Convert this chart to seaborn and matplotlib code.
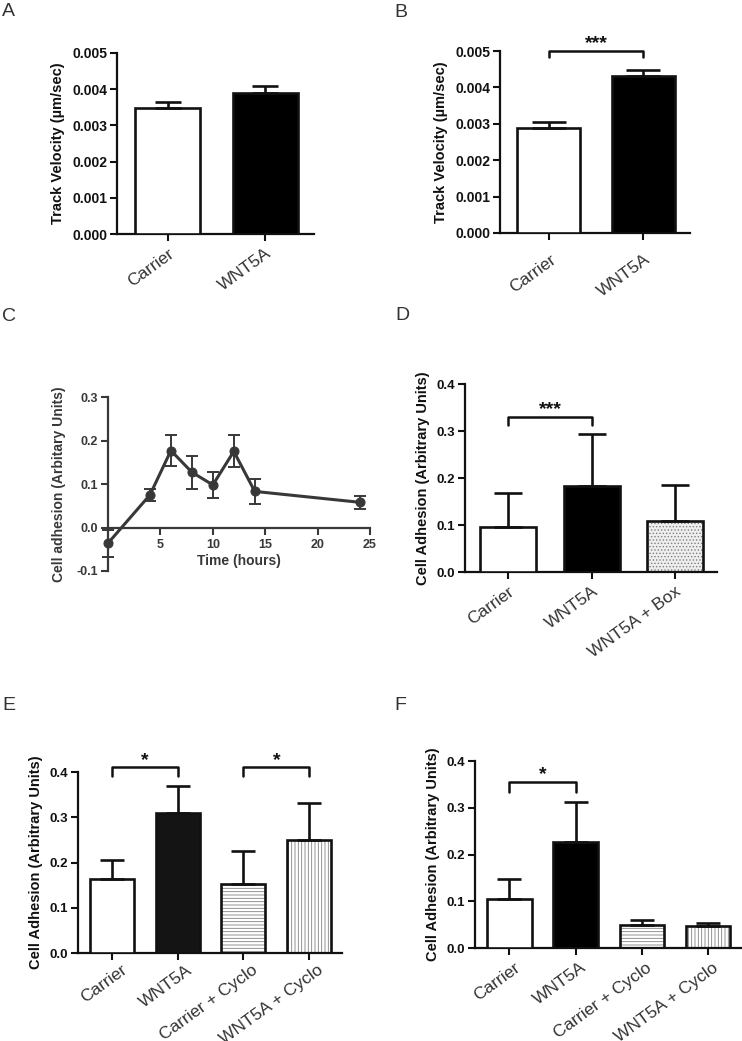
import matplotlib
matplotlib.use("Agg")
import matplotlib.pyplot as plt
import matplotlib.patches as mpatches
import matplotlib.transforms as mtransforms
from matplotlib.ticker import FormatStrFormatter
import seaborn as sns

# ===== values =====
a_groups = ["Carrier", "WNT5A"]
a_speed = [0.00349, 0.00389]
a_err = [0.00015, 0.00021]

b_groups = ["Carrier", "WNT5A"]
b_speed = [0.00289, 0.00431]
b_err = [0.00016, 0.00018]

c_hours = [0, 4, 6, 8, 10, 12, 14, 24]
c_adhesion = [-0.036, 0.075, 0.177, 0.127, 0.098, 0.175, 0.083, 0.058]
c_err = [0.031, 0.013, 0.035, 0.038, 0.030, 0.037, 0.028, 0.015]

d_groups = ["Carrier", "WNT5A", "WNT5A + Box"]
d_adhesion = [0.096, 0.183, 0.109]
d_err = [0.073, 0.111, 0.076]

e_groups = ["Carrier", "WNT5A", "Carrier + Cyclo", "WNT5A + Cyclo"]
e_adhesion = [0.164, 0.309, 0.153, 0.249]
e_err = [0.042, 0.059, 0.073, 0.083]

f_groups = ["Carrier", "WNT5A", "Carrier + Cyclo", "WNT5A + Cyclo"]
f_adhesion = [0.105, 0.226, 0.050, 0.0475]
f_err = [0.042, 0.087, 0.010, 0.0055]

# ===== style =====
sns.set_style("ticks")
plt.rcParams["font.family"] = ["Liberation Sans", "DejaVu Sans"]
plt.rcParams["hatch.linewidth"] = 0.6
INK = "#111111"
LBL = "#333333"

fig = plt.figure(figsize=(7.42, 10.41), dpi=100)


def style_axes(ax, ysize, color=INK):
    sns.despine(ax=ax)
    for s in ("left", "bottom"):
        ax.spines[s].set_linewidth(1.6)
        ax.spines[s].set_color(color)
    ax.tick_params(axis="y", length=5, width=1.5, pad=2, labelsize=ysize, colors=color)
    ax.tick_params(axis="x", length=5, width=1.5, colors=color)
    for t in ax.get_yticklabels():
        t.set_fontweight("bold")


def bar_panel(rect, groups, values, errs, fills, hatches, ymax, ystep, fmt,
              ylabel, capsize, ysize=9.5, shift=(0, 0)):
    ax = fig.add_axes(rect)
    n = len(groups)
    sns.barplot(x=groups, y=values, hue=groups, palette=dict(zip(groups, fills)),
                legend=False, saturation=1, width=0.67, edgecolor=INK,
                linewidth=1.9, ax=ax, zorder=3)
    bars = sorted(ax.patches, key=lambda p: p.get_x())
    for p, h in zip(bars, hatches):
        if h:
            under = mpatches.Rectangle(p.get_xy(), p.get_width(), p.get_height(),
                                       facecolor=p.get_facecolor(), hatch=h,
                                       edgecolor="#808080", linewidth=0, zorder=2)
            ax.add_patch(under)
            p.set_facecolor("none")
    ax.errorbar(range(n), values, yerr=[[0] * n, errs], fmt="none", ecolor=INK,
                elinewidth=1.9, capsize=capsize, capthick=1.9, zorder=4)
    ax.set_xlim(-0.52, n - 0.5)
    ax.set_ylim(0, ymax)
    ax.set_yticks([ystep * k for k in range(int(round(ymax / ystep)) + 1)])
    ax.yaxis.set_major_formatter(FormatStrFormatter(fmt))
    ax.set_ylabel(ylabel, fontsize=10.5, fontweight="bold", color=INK, labelpad=5)
    ax.set_xlabel("")
    style_axes(ax, ysize)
    ax.set_xticks(range(n))
    ax.set_xticklabels(groups, rotation=36, ha="right", rotation_mode="anchor",
                       fontsize=12.5, color=LBL)
    # nudge the slanted labels the way the original layout has them
    nudge = mtransforms.ScaledTranslation(shift[0] / 72, shift[1] / 72,
                                          fig.dpi_scale_trans)
    for lbl in ax.get_xticklabels():
        lbl.set_transform(lbl.get_transform() + nudge)
    return ax


def bracket(ax, i, j, y, drop, text):
    ax.plot([i, i, j, j], [y - drop, y, y, y - drop], color=INK, lw=1.8,
            clip_on=False, zorder=5)
    ax.annotate(text, xy=((i + j) / 2, y), xytext=(0, -1), textcoords="offset points",
                ha="center", va="bottom", fontsize=14, fontweight="bold", color=INK,
                annotation_clip=False)


# ----- A -----
ax_a = bar_panel([0.1577, 0.7752, 0.2655, 0.1739], a_groups, a_speed, a_err,
                 ["white", "black"], [None, None], 0.005, 0.001, "%.3f",
                 "Track Velocity (\u00b5m/sec)", 9.5, ysize=10)

# ----- B -----
ax_b = bar_panel([0.6739, 0.7762, 0.2561, 0.1748], b_groups, b_speed, b_err,
                 ["white", "black"], [None, None], 0.005, 0.001, "%.3f",
                 "Track Velocity (\u00b5m/sec)", 12, ysize=10, shift=(1, -5))
bracket(ax_b, 0, 1, 0.005, 0.00017, "***")

# ----- C -----
ax_c = fig.add_axes([0.1456, 0.4515, 0.3531, 0.1671])
sns.lineplot(x=c_hours, y=c_adhesion, marker="o", markersize=6.5, color="#383838",
             markeredgecolor="#383838", linewidth=2.2, ax=ax_c, clip_on=False, zorder=4)
ax_c.errorbar(c_hours, c_adhesion, yerr=c_err, fmt="none", ecolor="#383838",
              elinewidth=1.4, capsize=4, capthick=1.4, clip_on=False, zorder=4)
ax_c.set_xlim(0, 25)
ax_c.set_ylim(-0.1, 0.3)
ax_c.set_yticks([-0.1, 0.0, 0.1, 0.2, 0.3])
ax_c.set_xticks([5, 10, 15, 20, 25])
ax_c.yaxis.set_major_formatter(FormatStrFormatter("%.1f"))
ax_c.spines["bottom"].set_position(("data", 0))
style_axes(ax_c, 9, color="#383838")
ax_c.tick_params(axis="x", labelsize=9)
for t in ax_c.get_xticklabels():
    t.set_fontweight("bold")
ax_c.set_xlabel("Time (hours)", fontsize=10, fontweight="bold", color="#383838",
                labelpad=2)
ax_c.set_ylabel("Cell adhesion (Arbitary Units)", fontsize=10, fontweight="bold",
                color="#383838", labelpad=8)

# ----- D -----
ax_d = bar_panel([0.6267, 0.4505, 0.3396, 0.1806], d_groups, d_adhesion, d_err,
                 ["white", "black", "#eeeeee"], [None, None, "....."], 0.4, 0.1,
                 "%.1f", "Cell Adhesion (Arbitrary Units)", 10)
bracket(ax_d, 0, 1, 0.33, 0.018, "***")

# ----- E -----
ax_e = bar_panel([0.1051, 0.0845, 0.3558, 0.1739], e_groups, e_adhesion, e_err,
                 ["white", "#141414", "white", "white"], [None, None, "-----", "|||||"],
                 0.4, 0.1, "%.1f", "Cell Adhesion (Arbitrary Units)", 8.5,
                 shift=(6, 2))
bracket(ax_e, 0, 1, 0.41, 0.018, "*")
bracket(ax_e, 2, 3, 0.41, 0.018, "*")

# ----- F -----
ax_f = bar_panel([0.6402, 0.0893, 0.3585, 0.1796], f_groups, f_adhesion, f_err,
                 ["white", "black", "white", "white"], [None, None, "-----", "|||||"],
                 0.4, 0.1, "%.1f", "Cell Adhesion (Arbitrary Units)", 8.5,
                 shift=(3, 0))
bracket(ax_f, 0, 1, 0.355, 0.022, "*")

# ----- panel letters -----
for letter, x, y in [("A", 2, 3), ("B", 394, 4), ("C", 2, 308), ("D", 395, 307),
                     ("E", 2, 697), ("F", 394, 697)]:
    fig.text(x / 742, 1 - y / 1041, letter, fontsize=14, color=LBL, ha="left", va="top")

fig.savefig("out.png", dpi=100, facecolor="white")
